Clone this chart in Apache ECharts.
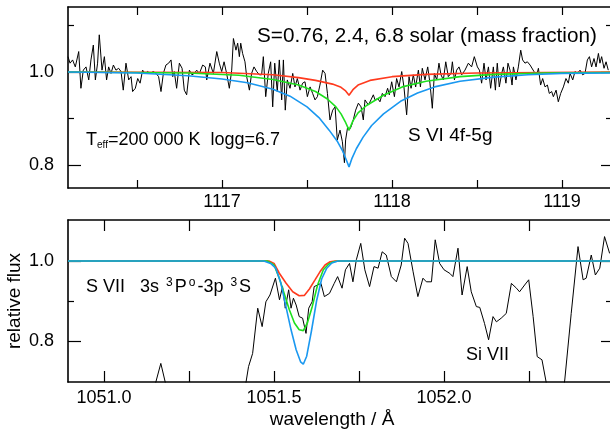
<!DOCTYPE html>
<html><head><meta charset="utf-8">
<script src="https://cdn.jsdelivr.net/npm/echarts@6/dist/echarts.min.js"></script>
<style>html,body{margin:0;padding:0;background:#fff}#c{width:610px;height:433px}</style>
</head><body><div id="c"></div><script>
// ---------- DATA ----------
// Top panel: S VI 4f-5g (wavelength in Angstrom, relative flux)
const topObsWave = [1116.094,1116.106,1116.121,1116.137,1116.157,1116.170,1116.184,1116.200,1116.216,1116.229,1116.243,1116.255,1116.268,1116.278,1116.294,1116.308,1116.321,1116.333,1116.347,1116.361,1116.376,1116.392,1116.406,1116.419,1116.435,1116.451,1116.465,1116.474,1116.490,1116.504,1116.518,1116.533,1116.547,1116.563,1116.576,1116.596,1116.612,1116.627,1116.641,1116.655,1116.670,1116.686,1116.700,1116.710,1116.719,1116.733,1116.749,1116.765,1116.778,1116.792,1116.808,1116.823,1116.837,1116.851,1116.867,1116.886,1116.902,
1116.910,1116.929,1116.949,1116.969,1116.984,1116.998,1117.012,1117.027,1117.043,1117.057,1117.067,1117.082,1117.092,1117.102,1117.110,1117.121,1117.135,1117.145,1117.161,1117.174,1117.188,1117.204,1117.220,1117.233,1117.243,1117.257,1117.272,1117.286,1117.298,1117.310,1117.325,1117.337,1117.351,1117.361,1117.372,1117.384,1117.400,1117.416,1117.429,1117.443,1117.459,1117.474,1117.488,1117.502,1117.518,1117.533,1117.547,1117.561,1117.576,1117.592,1117.606,1117.620,1117.635,1117.651,1117.665,1117.678,1117.694,
1117.708,1117.720,1117.727,1117.739,1117.747,1117.759,1117.772,1117.786,1117.802,1117.818,1117.831,1117.841,1117.851,1117.861,1117.876,1117.890,1117.900,1117.916,1117.929,1117.943,1117.959,1117.974,1117.984,1117.998,1118.014,1118.027,1118.041,1118.057,1118.070,1118.086,1118.100,1118.112,1118.125,1118.139,1118.155,1118.167,1118.178,1118.194,1118.210,1118.223,1118.237,1118.249,1118.263,1118.276,1118.288,1118.302,1118.316,1118.331,1118.347,1118.355,1118.367,1118.380,1118.394,1118.410,1118.429,1118.449,1118.468,1118.484,
1118.502,1118.514,1118.527,1118.541,1118.553,1118.567,1118.580,1118.596,1118.608,1118.619,1118.631,1118.645,1118.655,1118.670,1118.682,1118.694,1118.706,1118.714,1118.729,1118.743,1118.757,1118.768,1118.782,1118.796,1118.812,1118.823,1118.835,1118.851,1118.861,1118.874,1118.886,1118.900,1118.914,1118.925,1118.939,1118.949,1118.965,1118.978,1118.992,1119.008,1119.023,1119.037,1119.047,1119.063,1119.076,1119.090,1119.106,1119.121,1119.135,1119.149,1119.161,1119.174,1119.188,1119.200,1119.214,1119.223,1119.233,1119.247,1119.259,1119.272];
const topObsFlux = [1.033,1.019,1.026,1.011,1.044,0.965,1.004,1.011,0.983,1.026,1.058,0.983,1.019,1.080,1.004,1.033,0.983,1.011,0.997,1.015,1.004,1.008,1.001,0.961,1.019,0.983,0.990,0.958,0.965,0.986,0.976,1.004,0.997,1.001,0.997,1.001,0.997,0.990,0.958,0.997,1.015,1.019,1.026,0.990,1.001,0.965,1.019,1.008,0.961,0.951,1.004,0.994,0.997,1.004,0.997,1.015,1.011,
0.983,1.019,0.997,1.044,1.019,1.001,1.022,0.997,0.965,1.004,1.072,1.047,1.062,1.033,1.062,1.040,1.022,0.990,0.961,0.997,1.011,1.001,0.994,0.994,1.033,0.947,0.997,1.022,0.925,1.019,0.958,1.026,0.940,1.026,0.918,0.983,0.965,0.997,0.968,0.986,0.961,0.976,0.979,0.947,0.968,0.954,0.940,0.947,0.972,1.004,0.997,0.954,0.897,0.918,0.925,0.854,0.875,
0.850,0.805,0.854,0.882,0.875,0.882,0.897,0.918,0.933,0.925,0.897,0.940,0.943,0.929,0.940,0.951,0.940,0.943,0.936,0.954,0.947,0.965,0.951,0.979,0.947,0.986,0.968,1.001,0.968,0.908,0.990,0.965,0.994,0.968,1.004,0.968,1.008,0.983,1.011,0.976,0.922,0.997,0.983,1.019,0.994,0.983,1.022,0.990,0.997,1.022,0.983,1.004,1.011,0.994,1.004,1.019,1.011,1.033,
1.011,1.004,0.976,1.019,0.983,1.011,0.965,1.011,0.961,1.019,0.968,0.997,1.011,0.976,1.019,1.004,0.972,1.011,0.983,1.011,1.047,1.026,1.019,1.022,1.015,1.019,1.001,0.994,1.008,0.972,0.986,0.968,0.972,0.954,0.958,0.947,0.961,0.936,0.954,0.968,0.986,0.976,0.997,0.983,1.001,0.997,1.004,0.994,0.997,1.026,1.033,1.011,1.029,1.011,1.040,1.019,1.033,1.008,1.022,1.004];

const topRedWave   = [1116.094,1117.0,1117.3,1117.45,1117.55,1117.65,1117.70,1117.725,1117.747,1117.77,1117.80,1117.87,1118.0,1118.2,1118.5,1119.29];
const topRedFlux   = [1.0,0.999,0.994,0.988,0.982,0.974,0.967,0.960,0.950,0.962,0.972,0.982,0.990,0.995,0.998,1.0];
const topGreenWave = [1116.094,1116.8,1117.1,1117.3,1117.45,1117.55,1117.62,1117.67,1117.70,1117.725,1117.747,1117.77,1117.80,1117.85,1117.95,1118.06,1118.2,1118.4,1118.6,1118.9,1119.29];
const topGreenFlux = [1.0,0.998,0.993,0.984,0.972,0.958,0.942,0.925,0.910,0.893,0.875,0.895,0.912,0.928,0.950,0.968,0.980,0.990,0.995,0.998,0.999];
const topBlueWave  = [1116.094,1116.5,1116.8,1117.0,1117.15,1117.3,1117.4,1117.5,1117.57,1117.63,1117.68,1117.71,1117.73,1117.747,1117.765,1117.79,1117.83,1117.88,1117.95,1118.05,1118.15,1118.25,1118.4,1118.6,1118.8,1119.0,1119.29];
const topBlueFlux  = [1.0,0.998,0.992,0.985,0.977,0.963,0.948,0.925,0.902,0.875,0.850,0.830,0.812,0.796,0.815,0.835,0.860,0.885,0.910,0.937,0.955,0.968,0.980,0.989,0.994,0.997,0.998];

// Bottom panel: S VII 3s 3P-3p 3S
const botObsWave = [1050.894,1050.960,1051.040,1051.120,1051.150,1051.167,1051.182,1051.200,1051.300,1051.400,1051.417,1051.425,1051.437,1051.452,1051.465,1051.476,1051.488,1051.504,1051.516,1051.525,1051.533,1051.543,1051.550,1051.557,1051.565,1051.574,1051.584,1051.594,1051.602,1051.612,1051.618,1051.628,1051.638,1051.648,1051.663,1051.677,1051.687,
1051.700,1051.710,1051.722,1051.732,1051.742,1051.755,1051.767,1051.781,1051.794,1051.806,1051.818,1051.830,1051.845,1051.860,1051.874,1051.884,1051.894,1051.909,1051.923,1051.938,1051.948,1051.963,1051.974,1051.987,1052.000,1052.017,1052.026,1052.041,1052.053,1052.068,1052.080,1052.095,1052.105,1052.119,1052.131,1052.144,1052.154,1052.168,1052.183,1052.198,1052.213,1052.222,1052.237,1052.249,1052.262,1052.274,1052.288,1052.301,1052.316,1052.340,1052.355,1052.374,1052.394,1052.409,1052.418,1052.433,1052.445,1052.458,1052.472,1052.487];
const botObsFlux = [0.60,0.62,0.60,0.63,0.69,0.744,0.69,0.64,0.60,0.62,0.694,0.736,0.769,0.882,0.836,0.898,0.915,0.957,0.903,0.936,0.882,0.928,0.882,0.907,0.890,0.861,0.857,0.819,0.882,0.898,0.936,0.940,0.944,0.911,0.919,0.944,0.961,
0.932,0.978,0.994,0.948,1.003,1.044,0.978,0.936,0.986,0.982,1.023,1.015,0.961,0.948,0.990,1.057,1.044,0.973,0.911,0.957,0.948,0.948,1.053,0.994,0.978,0.969,0.961,1.032,0.915,0.986,0.923,0.886,0.884,0.844,0.803,0.861,0.848,0.857,0.869,0.944,0.932,0.923,0.940,0.953,0.861,0.761,0.753,0.694,0.60,0.62,0.7025,0.869,1.036,0.953,0.957,1.015,0.965,0.982,1.061,1.019];

const botRedWave   = [1050.894,1051.485,1051.500,1051.515,1051.535,1051.555,1051.574,1051.589,1051.604,1051.620,1051.635,1051.650,1051.665,1051.680,1052.491];
const botRedFlux   = [1.0,1.0,0.994,0.970,0.945,0.923,0.913,0.914,0.930,0.952,0.973,0.990,0.998,1.0,1.0];
const botGreenWave = [1050.894,1051.480,1051.500,1051.515,1051.530,1051.545,1051.560,1051.574,1051.586,1051.598,1051.612,1051.628,1051.645,1051.660,1051.675,1051.690,1052.491];
const botGreenFlux = [1.0,1.0,0.990,0.958,0.918,0.878,0.845,0.828,0.826,0.845,0.885,0.940,0.978,0.992,0.998,1.0,1.0];
const botBlueWave  = [1050.894,1051.470,1051.490,1051.505,1051.520,1051.535,1051.550,1051.565,1051.578,1051.586,1051.596,1051.610,1051.625,1051.640,1051.655,1051.670,1051.688,1052.491];
const botBlueFlux  = [1.0,1.0,0.994,0.982,0.945,0.886,0.828,0.778,0.748,0.742,0.762,0.825,0.900,0.955,0.982,0.995,1.0,1.0];

// Axis ticks / labels
const topXLabels = [1117, 1118, 1119];
const topXTicks  = [1116.5, 1117, 1117.5, 1118, 1118.5, 1119];
const botXLabels = [1051.0, 1051.5, 1052.0];
const botXTicks  = [1051.0, 1051.25, 1051.5, 1051.75, 1052.0, 1052.25];
const yMajor = [0.8, 1.0];
const yMinorTop = [0.9, 1.1];
const yMinorBot = [0.9];

// ---------- CHART ----------
const FONT = '"Liberation Sans", Arial, Helvetica, sans-serif';
const zip = (a, b) => a.map((v, i) => [v, b[i]]);
const RED = '#ff3a1e', GREEN = '#1ee01e', BLUE = '#1a98f0';

function xAxes(grid, min, max, ticks, labels, tickLen, fmt, margin) {
  const base = {
    type: 'value', gridIndex: grid, min, max, splitLine: {show: false},
    axisLine: {show: true, onZero: false, lineStyle: {color: '#000', width: 1.6}},
    axisTick: {show: true, inside: true, length: tickLen, customValues: ticks, lineStyle: {color: '#000', width: 1.2}}
  };
  return [
    Object.assign({}, base, {position: 'bottom',
      axisLabel: {show: true, customValues: labels, formatter: fmt, color: '#000', fontSize: 18, fontFamily: FONT, margin}}),
    Object.assign({}, base, {position: 'top', axisLabel: {show: false}})
  ];
}
function yAxes(grid, min, max, minor) {
  const mk = (pos, ticks, len, label, line) => ({
    type: 'value', gridIndex: grid, min, max, position: pos, splitLine: {show: false},
    axisLine: {show: line, onZero: false, lineStyle: {color: '#000', width: 1.6}},
    axisTick: {show: true, inside: true, length: len, customValues: ticks, lineStyle: {color: '#000', width: 1.2}},
    axisLabel: label ? {show: true, customValues: yMajor, formatter: v => v.toFixed(1), color: '#000', fontSize: 18, fontFamily: FONT, margin: 14} : {show: false}
  });
  return [mk('left', yMajor, 13, true, true), mk('left', minor, 6, false, false),
          mk('right', yMajor, 10, false, true), mk('right', minor, 5, false, false)];
}
function line(xi, yi, data, color, width, z) {
  return {type: 'line', xAxisIndex: xi, yAxisIndex: yi, data, showSymbol: false, symbol: 'none',
    lineStyle: {color, width}, z, silent: true, clip: true};
}

const chart = echarts.init(document.getElementById('c'), null, {renderer: 'canvas'});
chart.setOption({
  animation: false,
  backgroundColor: '#fff',
  grid: [
    {left: 68, top: 7, width: 543, height: 181, outerBoundsMode: 'none', containLabel: false},
    {left: 68, top: 220, width: 543, height: 162, outerBoundsMode: 'none', containLabel: false}
  ],
  xAxis: [].concat(
    xAxes(0, 1116.094, 1119.288, topXTicks, topXLabels, 8, v => String(Math.round(v)), 5),
    xAxes(1, 1050.894, 1052.491, botXTicks, botXLabels, 11, v => v.toFixed(1), 7)
  ),
  yAxis: [].concat(
    yAxes(0, 0.7506, 1.1398, yMinorTop),
    yAxes(1, 0.6975, 1.1025, yMinorBot)
  ),
  series: [
    line(0, 0, zip(topObsWave, topObsFlux), '#000', 1, 2),
    line(0, 0, zip(topRedWave, topRedFlux), RED, 1.6, 3),
    line(0, 0, zip(topGreenWave, topGreenFlux), GREEN, 1.6, 4),
    line(0, 0, zip(topBlueWave, topBlueFlux), BLUE, 1.6, 5),
    line(2, 4, zip(botObsWave, botObsFlux), '#000', 1, 2),
    line(2, 4, zip(botRedWave, botRedFlux), RED, 1.6, 3),
    line(2, 4, zip(botGreenWave, botGreenFlux), GREEN, 1.6, 4),
    line(2, 4, zip(botBlueWave, botBlueFlux), BLUE, 1.6, 5)
  ],
  graphic: [
    {type: 'text', x: 257, y: 36, z: 10, style: {text: 'S=0.76, 2.4, 6.8 solar (mass fraction)', font: '20.7px ' + FONT, fill: '#000', align: 'left', verticalAlign: 'middle', textAlign: 'left', textVerticalAlign: 'middle'}},
    {type: 'text', x: 86, y: 140, z: 10, style: {
      text: '{n|T}{s|eff}{n|=200 000 K  logg=6.7}', fill: '#000', align: 'left', verticalAlign: 'middle', textAlign: 'left', textVerticalAlign: 'middle',
      rich: {n: {fontSize: 18, fontFamily: FONT, fill: '#000', lineHeight: 20}, s: {fontSize: 10, fontFamily: FONT, fill: '#000', verticalAlign: 'bottom', lineHeight: 10}}}},
    {type: 'text', x: 408, y: 136, z: 10, style: {text: 'S VI 4f-5g', font: '19px ' + FONT, fill: '#000', align: 'left', verticalAlign: 'middle', textAlign: 'left', textVerticalAlign: 'middle'}},
    {type: 'text', x: 86, y: 287, z: 10, style: {
      text: '{n|S VII   3s }{p|3}{n|P}{p|o}{n|-3p }{p|3}{n|S}', fill: '#000', align: 'left', verticalAlign: 'middle', textAlign: 'left', textVerticalAlign: 'middle',
      rich: {n: {fontSize: 18, fontFamily: FONT, fill: '#000', lineHeight: 20}, p: {fontSize: 12, fontFamily: FONT, fill: '#000', verticalAlign: 'top', lineHeight: 12, padding: [0, 2, 0, 2]}}}},
    {type: 'text', x: 466, y: 355, z: 10, style: {text: 'Si VII', font: '18px ' + FONT, fill: '#000', align: 'left', verticalAlign: 'middle', textAlign: 'left', textVerticalAlign: 'middle'}},
    {type: 'text', x: 15, y: 301, rotation: Math.PI / 2, z: 10, style: {text: 'relative flux', font: '19px ' + FONT, fill: '#000', align: 'center', verticalAlign: 'middle', textAlign: 'center', textVerticalAlign: 'middle'}},
    {type: 'text', x: 332, y: 420, z: 10, style: {text: 'wavelength / Å', font: '19px ' + FONT, fill: '#000', align: 'center', verticalAlign: 'middle', textAlign: 'center', textVerticalAlign: 'middle'}}
  ]
});
</script></body></html>
